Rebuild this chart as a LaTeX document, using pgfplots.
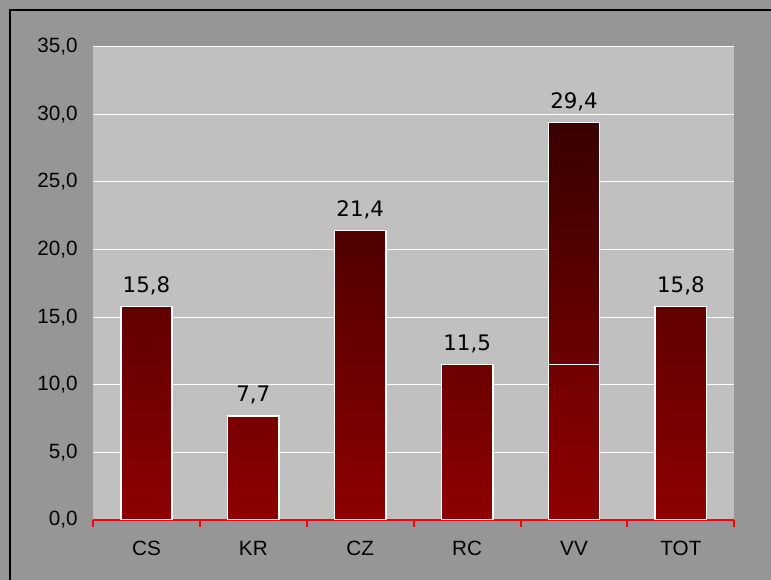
\documentclass[border=0pt]{standalone}
\usepackage{fontspec}
\setmainfont{Liberation Sans}
\newfontfamily\dejavu{DejaVu Sans}
\usepackage{pgfplots}
\pgfplotsset{compat=1.18}
\definecolor{bgout}{RGB}{150,150,150}
\definecolor{bgin}{RGB}{192,192,192}
\definecolor{bartop}{RGB}{56,0,0}
\definecolor{barbot}{RGB}{142,0,0}
\definecolor{barmid}{RGB}{114,0,0}
\begin{document}
\begin{tikzpicture}
\path[use as bounding box, fill=bgout] (-69.75pt,-45pt) rectangle (508.5pt,390pt);
\draw[black, line width=1.5pt] (-62.25pt,-60pt) -- (-62.25pt,382.5pt) -- (520pt,382.5pt);
\begin{axis}[
  at={(0pt,0pt)}, anchor=south west,
  scale only axis, width=481pt, height=355pt,
  ymin=0, ymax=35, xmin=-0.5, xmax=5.5,
  ytick={0,5,...,35},
  xtick={0,...,5}, xticklabels={CS,KR,CZ,RC,VV,TOT},
  minor xtick={-0.5,0.5,...,5.5},
  axis background/.style={fill=bgin},
  ymajorgrids, grid style={white, line width=0.8pt},
  axis x line*=bottom, axis y line*=left,
  x axis line style={red, line width=1.5pt},
  y axis line style={draw=none},
  major tick length=0pt, minor tick length=5pt,
  tick align=outside,
  minor x tick style={red, line width=1.5pt},
  ybar, bar width=0.48, bar shift=0pt,
  tick label style={font=\fontsize{15.5}{16}\selectfont, black},
  yticklabel style={anchor=east, xshift=-8pt},
  xticklabel style={anchor=center, yshift=-21.5pt},
  /pgf/number format/fixed, /pgf/number format/fixed zerofill,
  /pgf/number format/precision=1, /pgf/number format/use comma,
  /pgf/number format/assume math mode=true,
  nodes near coords style={font=\dejavu\fontsize{16}{16}\selectfont, anchor=base, yshift=10.5pt, black},
]
\addplot[draw=white, line width=1.2pt, top color=bartop, bottom color=barbot, nodes near coords]
  coordinates {(0,15.8) (1,7.7) (2,21.4) (3,11.5) (4,29.4) (5,15.8)};
\addplot[draw=white, line width=1.2pt, top color=barmid, bottom color=barbot]
  coordinates {(4,11.5)};
\end{axis}
\end{tikzpicture}
\end{document}
